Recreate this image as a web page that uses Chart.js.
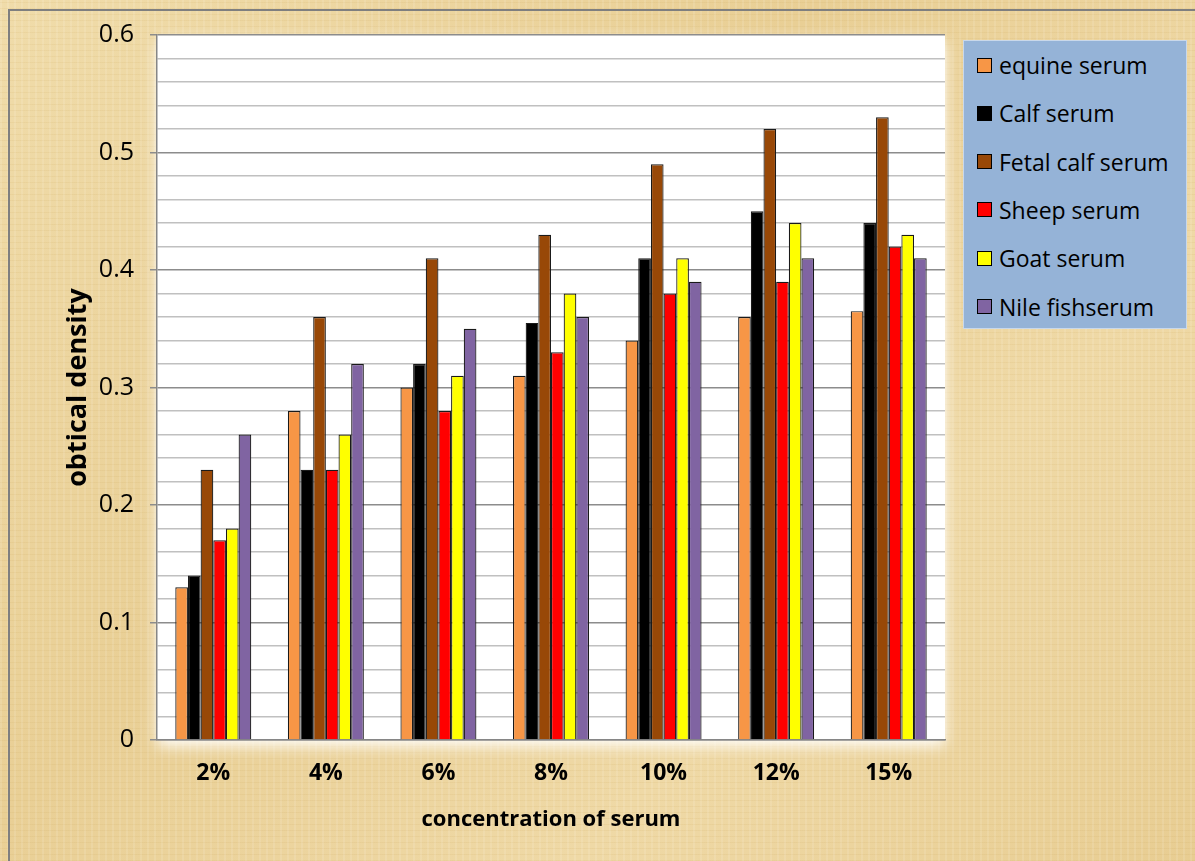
<!DOCTYPE html>
<html>
<head>
<meta charset="utf-8">
<title>Optical density by serum concentration</title>
<script src="https://cdn.jsdelivr.net/npm/chart.js@4.4.1/dist/chart.umd.min.js"></script>
<style>
  html, body {
    margin: 0;
    padding: 0;
    width: 1195px;
    height: 861px;
    overflow: hidden;
  }
  body {
    background-color: #ecd49e;
    background-image:
      repeating-linear-gradient(90deg, rgba(255,255,255,0.10) 0px, rgba(255,255,255,0.10) 2px, rgba(0,0,0,0) 2px, rgba(0,0,0,0) 7px),
      repeating-linear-gradient(0deg, rgba(190,150,70,0.10) 0px, rgba(190,150,70,0.10) 1px, rgba(0,0,0,0) 1px, rgba(0,0,0,0) 6px),
      linear-gradient(135deg, #f0dcaa 0%, #e9cf95 40%, #efd9a6 70%, #e8cd92 100%);
    font-family: "Open Sans", sans-serif;
  }
  .frame {
    position: absolute;
    left: 8px;
    top: 9px;
    width: 1300px;
    height: 1000px;
    border-left: 2px solid #7f7f7f;
    border-top: 2px solid #7f7f7f;
  }
  #chart {
    position: absolute;
    left: 0;
    top: 0;
  }
  .legend {
    position: absolute;
    left: 963px;
    top: 40px;
    width: 224px;
    height: 289px;
    background: #95b3d7;
    border: 1px solid #c9d8ea;
    box-sizing: border-box;
  }
  .legend-item {
    position: absolute;
    left: 13px;
    height: 28px;
    display: flex;
    align-items: center;
    font-size: 23px;
    color: #000;
    white-space: nowrap;
  }
  .legend-swatch {
    width: 15px;
    height: 15px;
    border: 1.5px solid #000;
    margin-right: 7px;
    box-sizing: border-box;
  }
</style>
</head>
<body>
<div class="frame"></div>
<canvas id="chart" width="1195" height="861"></canvas>
<div class="legend" id="legend"></div>

<script>
// ----------------------------------------------------------------------------
// Chart data
// ----------------------------------------------------------------------------
var concentrations = ['2%', '4%', '6%', '8%', '10%', '12%', '15%'];

var seriesNames = ['equine serum', 'Calf serum', 'Fetal calf serum', 'Sheep serum', 'Goat serum', 'Nile fishserum'];
var seriesColors = ['#f79646', '#000000', '#984807', '#ff0000', '#ffff00', '#8064a2'];

var equineSerum   = [0.13, 0.28, 0.30, 0.31, 0.34, 0.36, 0.365];
var calfSerum     = [0.14, 0.23, 0.32, 0.355, 0.41, 0.45, 0.44];
var fetalCalf     = [0.23, 0.36, 0.41, 0.43, 0.49, 0.52, 0.53];
var sheepSerum    = [0.17, 0.23, 0.28, 0.33, 0.38, 0.39, 0.42];
var goatSerum     = [0.18, 0.26, 0.31, 0.38, 0.41, 0.44, 0.43];
var nileFishSerum = [0.26, 0.32, 0.35, 0.36, 0.39, 0.41, 0.41];

var yTickLabels = ['0', '0.1', '0.2', '0.3', '0.4', '0.5', '0.6'];

var seriesValues = [equineSerum, calfSerum, fetalCalf, sheepSerum, goatSerum, nileFishSerum];

(function() {
    'use strict';

    var FONT = '"Open Sans", sans-serif';

    // white plot area with a soft glow underneath
    var plotBackground = {
        id: 'plotBackground',
        beforeDraw: function(chart) {
            var a = chart.chartArea;
            var ctx = chart.ctx;
            ctx.save();
            ctx.shadowColor = 'rgba(255,255,255,0.95)';
            ctx.shadowBlur = 14;
            ctx.shadowOffsetY = 6;
            ctx.fillStyle = '#ffffff';
            ctx.fillRect(a.left, a.top, a.right - a.left, a.bottom - a.top);
            ctx.restore();
        }
    };

    function isMajor(value) {
        var scaled = Math.round(value * 100);
        return scaled % 10 === 0;
    }

    var datasets = seriesNames.map(function(name, i) {
        return {
            label: name,
            data: seriesValues[i],
            backgroundColor: seriesColors[i],
            borderColor: '#1a1a1a',
            borderWidth: 1.2,
            barPercentage: 1.0,
            categoryPercentage: 0.675
        };
    });

    var ctx = document.getElementById('chart');
    new Chart(ctx, {
        type: 'bar',
        data: {
            labels: concentrations,
            datasets: datasets
        },
        options: {
            responsive: false,
            animation: false,
            layout: {
                padding: { left: 58, top: 35, right: 250, bottom: 0 }
            },
            plugins: {
                legend: { display: false },
                tooltip: { enabled: false }
            },
            scales: {
                x: {
                    grid: {
                        display: false,
                        drawTicks: false
                    },
                    border: { color: '#868686', width: 1.5 },
                    ticks: {
                        color: '#000',
                        padding: 20,
                        font: { family: FONT, size: 23, weight: 'bold' }
                    },
                    title: {
                        display: true,
                        text: 'concentration of serum',
                        color: '#000',
                        padding: { top: 4, bottom: 28 },
                        font: { family: FONT, size: 22, weight: 'bold' }
                    },
                    afterFit: function(scale) {
                        scale.height = 121;
                    }
                },
                y: {
                    min: 0,
                    max: 0.6,
                    border: { color: '#868686', width: 1.5 },
                    grid: {
                        color: function(c) {
                            return isMajor(c.tick.value) ? '#8c8c8c' : '#c0c0c0';
                        },
                        lineWidth: 1.5,
                        tickColor: function(c) {
                            return isMajor(c.tick.value) ? '#8c8c8c' : 'rgba(0,0,0,0)';
                        },
                        tickLength: 7
                    },
                    ticks: {
                        stepSize: 0.02,
                        autoSkip: false,
                        color: '#000',
                        padding: 16,
                        font: { family: FONT, size: 25 },
                        callback: function(value) {
                            if (!isMajor(value)) {
                                return '';
                            }
                            return yTickLabels[Math.round(value * 10)];
                        }
                    },
                    title: {
                        display: true,
                        text: 'obtical density',
                        color: '#000',
                        padding: { top: 4, bottom: 0 },
                        font: { family: FONT, size: 27, weight: 'bold' }
                    },
                    afterFit: function(scale) {
                        scale.width = 99;
                    }
                }
            }
        },
        plugins: [plotBackground]
    });

    // legend box built from the series arrays
    var legend = document.getElementById('legend');
    seriesNames.forEach(function(name, i) {
        var item = document.createElement('div');
        item.className = 'legend-item';
        item.style.top = (10 + i * 48.3) + 'px';
        var sw = document.createElement('span');
        sw.className = 'legend-swatch';
        sw.style.background = seriesColors[i];
        var txt = document.createElement('span');
        txt.textContent = name;
        item.appendChild(sw);
        item.appendChild(txt);
        legend.appendChild(item);
    });
})();
</script>
</body>
</html>
